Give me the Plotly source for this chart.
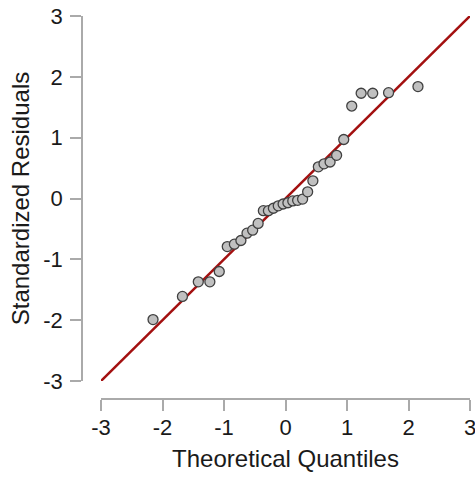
import plotly.graph_objects as go

# Theoretical normal quantiles (n = 32)
theoretical = [-2.154, -1.676, -1.418, -1.230, -1.077, -0.947, -0.831, -0.725,
               -0.626, -0.534, -0.445, -0.360, -0.278, -0.197, -0.118, -0.039,
               0.039, 0.118, 0.197, 0.278, 0.360, 0.445, 0.534, 0.626,
               0.725, 0.831, 0.947, 1.077, 1.230, 1.418, 1.676, 2.154]
# Standardized residuals (sorted)
residuals = [-1.99, -1.61, -1.37, -1.37, -1.20, -0.79, -0.75, -0.69,
             -0.57, -0.52, -0.41, -0.20, -0.20, -0.16, -0.12, -0.09,
             -0.07, -0.04, -0.03, -0.01, 0.11, 0.29, 0.52, 0.57,
             0.60, 0.71, 0.97, 1.52, 1.73, 1.73, 1.74, 1.84]
# Reference line
line_x = [-3, 3]
line_y = [-3, 3]
tick_vals = [-3, -2, -1, 0, 1, 2, 3]
tick_text = ["-3", "-2", "-1", "0", "1", "2", "3"]

W, H = 475, 477
ML, MR, MT, MB = 82, 5, 16, 78
pw = W - ML - MR
ph = H - MT - MB
FONT = "Liberation Sans, Arial, sans-serif"

fig = go.Figure()
fig.add_trace(go.Scatter(x=line_x, y=line_y, mode="lines",
                         line=dict(color="#a31010", width=2.5),
                         hoverinfo="skip", showlegend=False))
fig.add_trace(go.Scatter(x=theoretical, y=residuals, mode="markers",
                         marker=dict(size=10, color="#c0c0c0",
                                     line=dict(color="#404040", width=1.3)),
                         showlegend=False))

axis_common = dict(
    range=[-3, 3], tickvals=tick_vals, ticktext=tick_text,
    showgrid=False, zeroline=False, showline=True,
    linecolor="#aaaaaa", linewidth=1.5,
    ticks="outside", ticklen=11, tickwidth=1.5, tickcolor="#aaaaaa",
    tickfont=dict(family=FONT, size=22, color="#1a1a1a"),
    anchor="free", position=0, ticklabeloverflow="allow",
    automargin=False,
)

fig.update_layout(
    width=W, height=H,
    margin=dict(l=ML, r=MR, t=MT, b=MB, pad=0, autoexpand=False),
    paper_bgcolor="white", plot_bgcolor="white",
    xaxis=dict(axis_common,
               domain=[(101 - ML) / pw, 1],
               ticklabelstandoff=-2,
               title=dict(text="Theoretical Quantiles", standoff=10,
                          font=dict(family=FONT, size=24, color="#1a1a1a"))),
    yaxis=dict(axis_common,
               domain=[(399 - 381) / ph, 1],
               ticklabelstandoff=3,
               title=dict(text="Standardized Residuals", standoff=6,
                          font=dict(family=FONT, size=24, color="#1a1a1a"))),
)

fig.write_html("out.html")
